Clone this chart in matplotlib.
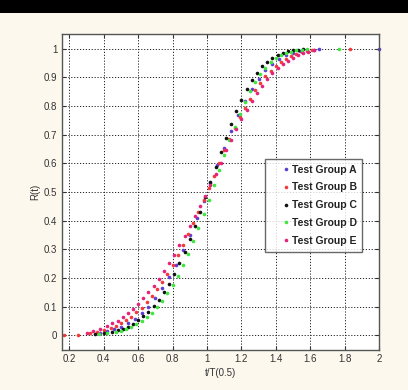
import matplotlib
matplotlib.use("Agg")
import matplotlib.pyplot as plt
from matplotlib.patches import Rectangle

plt.rcParams['font.family'] = ['Liberation Sans', 'DejaVu Sans']

# Test Group A (blue)
tA = [0.38, 0.42, 0.46, 0.50, 0.54, 0.58, 0.62, 0.66, 0.70, 0.74, 0.78, 0.82, 0.86,
      0.90, 0.94, 0.98, 1.02, 1.06, 1.10, 1.14, 1.18, 1.22, 1.26, 1.30, 1.34, 1.38,
      1.42, 1.46, 1.50, 1.54, 1.58, 1.62, 1.65, 2.00]
rA = [0.009, 0.014, 0.021, 0.030, 0.042, 0.058, 0.078, 0.101, 0.130, 0.164, 0.203, 0.247, 0.297,
      0.351, 0.408, 0.469, 0.531, 0.594, 0.655, 0.714, 0.768, 0.817, 0.859, 0.895, 0.925, 0.948,
      0.965, 0.978, 0.986, 0.992, 0.995, 0.997, 0.998, 1.000]

# Test Group B (red)
tB = [0.17, 0.25, 0.32, 0.36, 0.40, 0.44, 0.47, 0.50, 0.53, 0.56, 0.59, 0.62, 0.65, 0.68,
      0.71, 0.74, 0.77, 0.80, 0.83, 0.86, 0.89, 0.92, 0.95, 0.98, 1.01, 1.04, 1.07, 1.10,
      1.13, 1.16, 1.19, 1.22, 1.25, 1.28, 1.31, 1.34, 1.37, 1.40, 1.43, 1.46, 1.49, 1.52,
      1.55, 1.58, 1.61, 1.83]
rB = [0.000, 0.002, 0.007, 0.012, 0.018, 0.026, 0.033, 0.042, 0.053, 0.066, 0.081, 0.097, 0.116, 0.138,
      0.161, 0.188, 0.216, 0.247, 0.280, 0.316, 0.353, 0.392, 0.432, 0.473, 0.514, 0.556, 0.600, 0.645,
      0.685, 0.724, 0.760, 0.794, 0.826, 0.855, 0.880, 0.903, 0.923, 0.940, 0.954, 0.965, 0.975, 0.982,
      0.988, 0.992, 0.995, 1.000]

# Test Group C (black)
tC = [0.35, 0.40, 0.45, 0.48, 0.51, 0.54, 0.57, 0.60, 0.63, 0.66, 0.69, 0.72, 0.75, 0.78,
      0.81, 0.84, 0.87, 0.90, 0.93, 0.96, 0.99, 1.02, 1.05, 1.08, 1.11, 1.14, 1.17, 1.20,
      1.23, 1.26, 1.29, 1.32, 1.35, 1.38, 1.41, 1.44, 1.47, 1.50, 1.53, 1.56]
rC = [0.004, 0.007, 0.013, 0.018, 0.024, 0.031, 0.041, 0.053, 0.067, 0.083, 0.103, 0.125, 0.152, 0.181,
      0.215, 0.252, 0.292, 0.336, 0.383, 0.432, 0.483, 0.535, 0.587, 0.639, 0.689, 0.737, 0.781, 0.822,
      0.858, 0.889, 0.916, 0.938, 0.955, 0.969, 0.979, 0.986, 0.991, 0.995, 0.997, 0.998]

# Test Group D (green)
tD = [0.37, 0.42, 0.47, 0.50, 0.53, 0.56, 0.59, 0.62, 0.65, 0.68, 0.71, 0.74, 0.77, 0.80,
      0.83, 0.86, 0.89, 0.92, 0.95, 0.98, 1.01, 1.04, 1.07, 1.10, 1.13, 1.16, 1.19, 1.22,
      1.25, 1.28, 1.31, 1.34, 1.37, 1.40, 1.43, 1.46, 1.49, 1.52, 1.55, 1.58, 1.77]
rD = [0.004, 0.007, 0.012, 0.017, 0.023, 0.030, 0.039, 0.050, 0.064, 0.080, 0.099, 0.121, 0.147, 0.176,
      0.209, 0.245, 0.285, 0.328, 0.374, 0.423, 0.474, 0.526, 0.578, 0.630, 0.680, 0.728, 0.773, 0.814,
      0.851, 0.883, 0.911, 0.934, 0.952, 0.966, 0.977, 0.985, 0.990, 0.994, 0.996, 0.998, 1.000]

# Test Group E (magenta)
tE = [0.30, 0.34, 0.38, 0.42, 0.45, 0.48, 0.51, 0.54, 0.57, 0.60, 0.63, 0.66, 0.69, 0.72,
      0.75, 0.78, 0.81, 0.84, 0.87, 0.90, 0.93, 0.96, 0.99, 1.02, 1.05, 1.08, 1.11, 1.14,
      1.17, 1.20, 1.23, 1.26, 1.29, 1.32, 1.35, 1.38, 1.41, 1.44, 1.47, 1.50, 1.53, 1.56,
      1.59, 1.62]
rE = [0.010, 0.016, 0.023, 0.033, 0.042, 0.052, 0.064, 0.077, 0.092, 0.109, 0.129, 0.150, 0.172, 0.197,
      0.224, 0.252, 0.282, 0.314, 0.347, 0.381, 0.416, 0.451, 0.488, 0.524, 0.562, 0.603, 0.645, 0.683,
      0.719, 0.754, 0.787, 0.818, 0.846, 0.871, 0.894, 0.914, 0.931, 0.946, 0.958, 0.968, 0.977, 0.984,
      0.990, 0.994]

groups = [
    ("Test Group A", tA, rA, "#5b3fd6"),
    ("Test Group B", tB, rB, "#f23a3a"),
    ("Test Group C", tC, rC, "#111111"),
    ("Test Group D", tD, rD, "#3ee63e"),
    ("Test Group E", tE, rE, "#e5237a"),
]

fig = plt.figure(figsize=(4.08, 3.90), dpi=100, facecolor="#fcf8ee")
fig.patches.append(Rectangle((0, 1 - 13 / 390), 1, 13 / 390, transform=fig.transFigure,
                             facecolor="black", edgecolor="none", zorder=0))

ax = fig.add_axes([0.151, 0.103, 0.778, 0.809])
ax.set_facecolor("white")

for name, t, r, c in groups:
    ax.plot(t, r, linestyle="none", marker="o", markersize=2.6, markeredgewidth=0,
            color=c, label=name, clip_on=False)

ax.set_xlim(0.155, 2.0)
ax.set_ylim(-0.05, 1.05)
ax.set_xticks([0.2, 0.4, 0.6, 0.8, 1.0, 1.2, 1.4, 1.6, 1.8, 2.0])
ax.set_xticklabels(["0.2", "0.4", "0.6", "0.8", "1", "1.2", "1.4", "1.6", "1.8", "2"])
ax.set_yticks([0, 0.1, 0.2, 0.3, 0.4, 0.5, 0.6, 0.7, 0.8, 0.9, 1.0])
ax.set_yticklabels(["0", "0.1", "0.2", "0.3", "0.4", "0.5", "0.6", "0.7", "0.8", "0.9", "1"])
ax.tick_params(direction="in", top=True, right=True, length=3, width=0.8,
               labelsize=7, colors="#333333", pad=3)
ax.grid(True, linestyle=(0, (1.2, 1.8)), color="#222222", linewidth=0.7)
for s in ax.spines.values():
    s.set_color("#555555")
    s.set_linewidth(1.0)

ax.set_xlabel("t/T(0.5)", fontsize=7, color="#333333", labelpad=3)
ax.set_ylabel("R(t)", fontsize=7, color="#333333", labelpad=3)

leg = ax.legend(loc="upper left", bbox_to_anchor=(0.641, 0.605),
                prop={"weight": "bold", "size": 7.5}, handlelength=3.0, handletextpad=-1.0,
                borderpad=0.55, borderaxespad=0, labelspacing=0.75, frameon=True,
                fancybox=False, markerscale=1.0)
leg.get_frame().set_edgecolor("#444444")
leg.get_frame().set_linewidth(1.0)
for txt in leg.get_texts():
    txt.set_color("#222222")

fig.savefig("out.png", dpi=100, facecolor=fig.get_facecolor())
